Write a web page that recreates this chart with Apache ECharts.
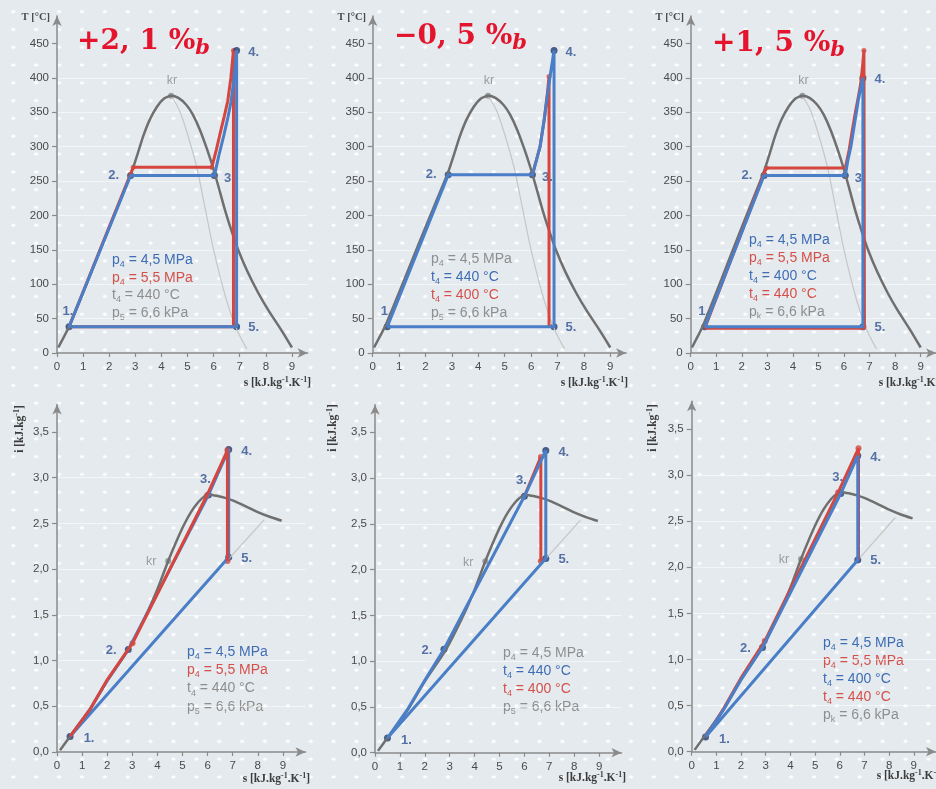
<!DOCTYPE html>
<html><head><meta charset="utf-8">
<script src="https://cdn.jsdelivr.net/npm/echarts@6/dist/echarts.min.js"></script>
<style>
html,body{margin:0;padding:0;}
body{width:936px;height:789px;overflow:hidden;background-color:#e5eaee;
background-image:radial-gradient(ellipse 2.6px 1.9px at 50% 50%, rgba(255,255,255,1) 0%, rgba(255,255,255,0.95) 60%, rgba(255,255,255,0) 100%);
background-size:22.88px 17.8px;background-position:1.9px 2.8px;}
#c{width:936px;height:789px;}
</style></head><body><div id="c"></div>
<script>
// ---------- axis ticks ----------
const sTicks = [0,1,2,3,4,5,6,7,8,9];
const tTicks = [0,50,100,150,200,250,300,350,400,450];
const iTicks = [0,0.5,1,1.5,2,2.5,3,3.5];

// ---------- T-s diagram (top row) ----------
const tsDome = [[0.05,8],[0.46,38],[1.2,107],[2.0,183],[2.85,262],[3.1,291],[3.3,315],[3.55,339],[3.83,358],[4.1,370],[4.37,374],[4.65,371],[4.95,361],[5.2,347],[5.48,324],[5.75,296],[5.98,269],[6.2,240],[6.45,206],[6.7,176],[6.95,149],[7.3,118],[7.7,88],[8.1,62],[8.6,33],[9.0,8]];
const tsThin = [[4.37,374],[4.7,352],[5.0,318],[5.36,269],[5.6,225],[6.0,150],[6.5,76],[6.9,33],[7.27,6]];
const tsKr = [[4.37,374,'kr']];

const ts1Blue = [[0.46,38],[2.82,258],[6.03,258],[6.2,287],[6.4,318],[6.55,343],[6.67,366],[6.78,400],[6.88,440],[6.88,38],[0.46,38]];
const ts1Red  = [[0.46,38],[2.92,270],[5.93,270],[6.1,295],[6.24,318],[6.4,343],[6.54,366],[6.66,400],[6.76,440],[6.76,38],[0.46,38]];
const ts1BluePts = [[0.46,38,'1.'],[2.82,258,'2.'],[6.03,258,'3.'],[6.88,440,'4.'],[6.88,38,'5.']];
const ts1RedPts  = [[2.92,270],[5.93,270],[6.76,440]];

const ts2Blue = [[0.55,38],[2.86,259],[6.05,259],[6.2,280],[6.34,300],[6.5,340],[6.63,378],[6.75,410],[6.87,440],[6.87,38],[0.55,38]];
const ts2Red  = [[6.05,259],[6.2,280],[6.34,300],[6.5,340],[6.62,378],[6.68,402],[6.68,38]];
const ts2BluePts = [[0.55,38,'1.'],[2.86,259,'2.'],[6.05,259,'3.'],[6.87,440,'4.'],[6.87,38,'5.']];
const ts2RedPts  = [[6.68,402]];

const ts3Blue = [[0.55,38],[2.87,258],[6.05,258],[6.15,280],[6.27,300],[6.42,335],[6.56,368],[6.65,385],[6.74,400],[6.74,38],[0.55,38]];
const ts3Red  = [[0.55,36],[2.96,269],[6.05,269],[6.2,295],[6.33,325],[6.46,353],[6.56,372],[6.65,391],[6.72,415],[6.78,440],[6.8,36],[0.55,36]];
const ts3BluePts = [[0.55,38,'1.'],[2.87,258,'2.'],[6.05,258,'3.'],[6.74,400,'4.'],[6.74,38,'5.']];
const ts3RedPts  = [[2.96,269],[6.05,269],[6.78,440]];

// ---------- i-s diagram (bottom row) ----------
const isDome = [[0.12,0.02],[0.52,0.17],[1.3,0.46],[2.0,0.78],[2.84,1.12],[3.5,1.47],[4.0,1.78],[4.43,2.09],[4.75,2.3],[5.05,2.48],[5.35,2.63],[5.65,2.74],[5.9,2.8],[6.1,2.815],[6.4,2.8],[6.7,2.78],[7.02,2.75],[7.5,2.69],[7.95,2.63],[8.5,2.57],[8.95,2.53]];
const isThin = [[6.8,2.1],[8.25,2.54]];
const isKr = [[4.43,2.09,'kr']];

const is1Blue = [[0.52,0.17],[1.3,0.46],[2.0,0.78],[2.84,1.12],[6.03,2.81],[6.84,3.31],[6.84,2.13],[0.52,0.17]];
const is1Red  = [[0.52,0.17],[1.3,0.46],[2.0,0.79],[3.01,1.19],[5.96,2.80],[6.79,3.30],[6.79,2.09]];
const is1BluePts = [[0.52,0.17,'1.'],[2.84,1.12,'2.'],[6.03,2.81,'3.'],[6.84,3.31,'4.'],[6.84,2.13,'5.']];
const is1RedPts  = [[3.01,1.19],[5.96,2.80],[6.79,3.30],[6.79,2.09]];

const is2Blue = [[0.5,0.16],[1.3,0.47],[2.0,0.79],[2.77,1.13],[6.0,2.80],[6.86,3.30],[6.86,2.12],[0.5,0.16]];
const is2Red  = [[6.0,2.80],[6.66,3.23],[6.66,2.09]];
const is2BluePts = [[0.5,0.16,'1.'],[2.77,1.13,'2.'],[6.0,2.80,'3.'],[6.86,3.30,'4.'],[6.86,2.12,'5.']];
const is2RedPts  = [[6.66,3.23],[6.66,2.09]];

const is3Blue = [[0.56,0.16],[1.3,0.46],[2.0,0.78],[2.87,1.13],[6.04,2.80],[6.73,3.21],[6.73,2.08],[0.56,0.16]];
const is3Red  = [[0.56,0.16],[1.3,0.47],[2.0,0.8],[2.96,1.20],[5.93,2.81],[6.76,3.29],[6.76,2.08]];
const is3BluePts = [[0.56,0.16,'1.'],[2.87,1.13,'2.'],[6.04,2.80,'3.'],[6.73,3.21,'4.'],[6.73,2.08,'5.']];
const is3RedPts  = [[2.96,1.20],[5.93,2.81],[6.76,3.29]];

// ---------- texts ----------
const deltas = [['+2, 1 %','b'],['\u22120, 5 %','b'],['+1, 5 %','b']];
const note1 = [['B','p','4',' = 4,5 MPa'],['R','p','4',' = 5,5 MPa'],['G','t','4',' = 440 \u00B0C'],['G','p','5',' = 6,6 kPa']];
const note2 = [['G','p','4',' = 4,5 MPa'],['B','t','4',' = 440 \u00B0C'],['R','t','4',' = 400 \u00B0C'],['G','p','5',' = 6,6 kPa']];
const note3 = [['B','p','4',' = 4,5 MPa'],['R','p','4',' = 5,5 MPa'],['B','t','4',' = 400 \u00B0C'],['R','t','4',' = 440 \u00B0C'],['G','p','k',' = 6,6 kPa']];
const tName = 'T [\u00B0C]';

// ---------- styling / layout ----------
const COL = {blue:'#4a7ec6', red:'#d4463e', navy:'#1f3c6e', dome:'#6f6f6f', thin:'#c6c6c6', lab:'#2f5192',
  tBlue:'#3e6db4', tRed:'#d4504a', tGray:'#8e8e8e', axis:'#8a8a8a', tick:'#4a4a4a'};
const grids = [
  {left:57, top:16, width:250.6, height:337},
  {left:372.7, top:16, width:253.4, height:337},
  {left:690.7, top:16, width:251.5, height:337},
  {left:57, top:404.6, width:248.5, height:347.4},
  {left:375, top:404.7, width:246.5, height:348},
  {left:691.7, top:401.3, width:247.5, height:350.4}
];
const topOff = {'1.':[-1,-15],'2.':[-17,0],'3.':[15,3],'4.':[17,2],'5.':[17,1]};
const botOff = {'1.':[19,2],'2.':[-17,1],'3.':[-3,-16],'4.':[18,2],'5.':[18,1]};

const fmtI = v => v.toFixed(1).replace('.', ',');
const xAxis = [], yAxis = [], series = [];
grids.forEach((g, i) => {
  const top = i < 3;
  xAxis.push({type:'value', gridIndex:i, min:0, max: top ? 9.6 : 9.9, interval:1,
    axisLine:{show:true, onZero:false, symbol:['none','arrow'], symbolSize:[7,10], lineStyle:{color:COL.axis, width:1.5}},
    axisTick:{show:true, length:4, customValues:sTicks, lineStyle:{color:COL.axis, width:1.2}},
    axisLabel:{customValues:sTicks, color:COL.tick, fontSize:11.5, fontFamily:'Liberation Sans', margin:8},
    splitLine:{show:false}});
  yAxis.push({type:'value', gridIndex:i, min:0, max: top ? 490 : 3.8, interval: top ? 50 : 0.5,
    axisLine:{show:true, onZero:false, symbol:['none','arrow'], symbolSize:[7,10], lineStyle:{color:COL.axis, width:1.5}},
    axisTick:{show:true, length:5, customValues: top ? tTicks : iTicks, lineStyle:{color:COL.axis, width:1.2}},
    axisLabel:{customValues: top ? tTicks : iTicks, formatter: top ? (v => String(v)) : fmtI,
      color:COL.tick, fontSize:11.5, fontFamily:'Liberation Sans', margin:8},
    splitLine:{show:true, showMaxLine:false, showMinLine:false, lineStyle:{color:'rgba(255,255,255,0.55)', width:1}}});
});

function line(i, data, color, width, smooth) {
  return {type:'line', xAxisIndex:i, yAxisIndex:i, data:data.map(p => [p[0], p[1]]), symbol:'none', showSymbol:false,
    smooth: smooth || false, lineStyle:{color, width}, silent:true, animation:false, clip:false};
}
function pts(i, data, color, size, off) {
  return {type:'scatter', xAxisIndex:i, yAxisIndex:i, symbolSize:size, itemStyle:{color}, silent:true, animation:false,
    data: data.map(p => ({value:[p[0], p[1]],
      label: p[2] ? {show:true, formatter:p[2], position:'inside', offset:(off && off[p[2]]) || [0,0]} : {show:false}})),
    label:{color:COL.lab, fontWeight:'bold', fontSize:13, fontFamily:'Liberation Sans'}};
}
function kr(i, data, off) {
  return {type:'scatter', xAxisIndex:i, yAxisIndex:i, symbolSize:6, itemStyle:{color:'#8a8a8a'}, silent:true, animation:false,
    data: data.map(p => ({value:[p[0], p[1]], label:{show:true, formatter:p[2], position:'inside', offset:off}})),
    label:{color:'#888', fontSize:12.5, fontFamily:'Liberation Sans'}};
}

// top row
[[ts1Blue, ts1Red, ts1BluePts, ts1RedPts], [ts2Blue, ts2Red, ts2BluePts, ts2RedPts], [ts3Blue, ts3Red, ts3BluePts, ts3RedPts]]
.forEach((d, i) => {
  series.push(line(i, tsThin, COL.thin, 1.2, 0.3));
  series.push(line(i, tsDome, COL.dome, 2.5, 0.2));
  series.push(line(i, d[1], COL.red, 3));
  series.push(line(i, d[0], COL.blue, 3));
  series.push(pts(i, d[3], COL.red, 5));
  series.push(pts(i, d[2], COL.navy, 7, topOff));
  series.push(kr(i, tsKr, [1,-15]));
});
// bottom row
[[is1Blue, is1Red, is1BluePts, is1RedPts, true], [is2Blue, is2Red, is2BluePts, is2RedPts, false], [is3Blue, is3Red, is3BluePts, is3RedPts, false]]
.forEach((d, k) => {
  const i = k + 3;
  series.push(line(i, isThin, COL.thin, 1.2));
  series.push(line(i, isDome, COL.dome, 2.5, 0.2));
  if (d[4]) {
    series.push(line(i, d[0], COL.blue, 3));
    series.push(line(i, d[1], COL.red, 3));
    series.push(pts(i, d[2], COL.navy, 7, botOff));
    series.push(pts(i, d[3], COL.red, 6));
  } else {
    series.push(line(i, d[1], COL.red, 3));
    series.push(line(i, d[0], COL.blue, 3));
    series.push(pts(i, d[3], COL.red, 6));
    series.push(pts(i, d[2], COL.navy, 7, botOff));
  }
  series.push(kr(i, isKr, [-17,1]));
});

// ---------- graphic texts ----------
const graphic = [];
function noteRich(lh) {
  const r = {};
  [['B',COL.tBlue],['R',COL.tRed],['G',COL.tGray]].forEach(([k,c]) => {
    r['n'+k] = {fontSize:14, fontFamily:'Liberation Sans', fill:c, lineHeight:lh, verticalAlign:'middle'};
    r['s'+k] = {fontSize:9, fontFamily:'Liberation Sans', fill:c, lineHeight:12, verticalAlign:'bottom'};
  });
  return r;
}
function note(lines, x, y, lh) {
  const txt = lines.map(l => `{n${l[0]}|${l[1]}}{s${l[0]}|${l[2]}}{n${l[0]}|${l[3]}}`).join('\n');
  graphic.push({type:'text', x, y: y - lh / 2, silent:true,
    style:{text:txt, rich:noteRich(lh), textAlign:'left', textVerticalAlign:'top'}});
}
note(note1, 112, 260, 17.8);
note(note2, 431, 259, 18);
note(note3, 749, 240, 18);
note(note1, 187, 652, 18.3);
note(note2, 503, 653, 18);
note(note3, 823, 643, 18);

// big red deltas
[[77, 42], [394, 37], [712, 44]].forEach((p, k) => {
  graphic.push({type:'text', x:p[0], y:p[1], silent:true,
    style:{text:`{m|${deltas[k][0]}}{b|${deltas[k][1]}}`, textAlign:'left', textVerticalAlign:'middle',
      rich:{m:{fontSize:28, fontWeight:'bold', fontFamily:'DejaVu Serif', fill:'#e3142c', lineHeight:34, verticalAlign:'middle'},
            b:{fontSize:21, fontWeight:'bold', fontStyle:'italic', fontFamily:'DejaVu Serif', fill:'#e3142c', lineHeight:22, verticalAlign:'bottom'}}}});
});

// axis names
const serifRich = {a:{fontSize:11.5, fontWeight:'bold', fontFamily:'Liberation Serif', fill:'#3c3c3c'},
                   p:{fontSize:8, fontWeight:'bold', fontFamily:'Liberation Serif', fill:'#3c3c3c', verticalAlign:'top', lineHeight:14}};
[50, 366, 684].forEach(x => graphic.push({type:'text', x, y:17, silent:true,
  style:{text:tName, font:'bold 10.5px "Liberation Serif"', fill:'#4a4a4a', textAlign:'right', textVerticalAlign:'middle'}}));
[[311,383],[628,383],[946,383],[310,779],[626,778],[944,776]].forEach(p => graphic.push({type:'text', x:p[0], y:p[1], silent:true,
  style:{text:'{a|s [kJ.kg}{p|-1}{a|.K}{p|-1}{a|]}', rich:serifRich, textAlign:'right', textVerticalAlign:'middle'}}));
[[20,429],[333,428],[653,428]].forEach(p => graphic.push({type:'text', x:p[0], y:p[1], rotation:Math.PI/2, silent:true,
  style:{text:'{a|i [kJ.kg}{p|-1}{a|]}', rich:serifRich, textAlign:'center', textVerticalAlign:'middle'}}));

const chart = echarts.init(document.getElementById('c'));
chart.setOption({
  backgroundColor:'transparent', animation:false,
  grid: grids.map(g => ({left:g.left, top:g.top, width:g.width, height:g.height})),
  xAxis, yAxis, series, graphic
});
</script></body></html>
